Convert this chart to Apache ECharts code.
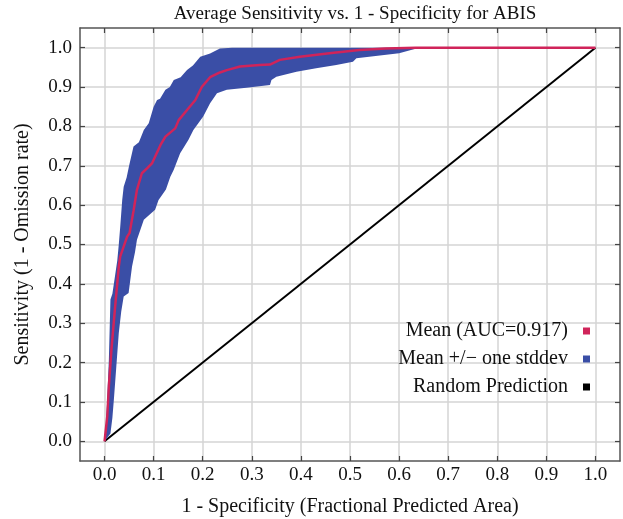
<!DOCTYPE html>
<html>
<head>
<meta charset="utf-8">
<script src="https://cdn.jsdelivr.net/npm/echarts@6/dist/echarts.min.js"></script>
<style>
  html, body { margin: 0; padding: 0; background: #fff; }
  #chart { width: 623px; height: 519px; }
</style>
</head>
<body>
<div id="chart"></div>
<script>
// tick positions on both axes
var tickValues = [0, 0.1, 0.2, 0.3, 0.4, 0.5, 0.6, 0.7, 0.8, 0.9, 1.0];

// mean ROC curve [1 - specificity, sensitivity]
var meanCurve = [
  [0, 0], [0.0055, 0.063], [0.0088, 0.14], [0.014, 0.233], [0.021, 0.334],
  [0.029, 0.444], [0.032, 0.47], [0.046, 0.52], [0.051, 0.529], [0.059, 0.585],
  [0.066, 0.639], [0.076, 0.681], [0.087, 0.694], [0.097, 0.707], [0.114, 0.753],
  [0.124, 0.774], [0.144, 0.795], [0.151, 0.816], [0.171, 0.846], [0.185, 0.867],
  [0.198, 0.9], [0.215, 0.925], [0.235, 0.937], [0.249, 0.943], [0.276, 0.952],
  [0.316, 0.956], [0.337, 0.957], [0.357, 0.969], [0.398, 0.977], [0.458, 0.986],
  [0.519, 0.994], [0.573, 0.998], [0.634, 1.0], [1.0, 1.0]
];

// mean + one stddev (upper edge of band)
var bandUpper = [
  [0, 0], [0.002, 0.02], [0.004, 0.07], [0.0055, 0.106], [0.0088, 0.207],
  [0.012, 0.36], [0.016, 0.375], [0.019, 0.4], [0.026, 0.46], [0.029, 0.5],
  [0.032, 0.546], [0.036, 0.613], [0.039, 0.647], [0.045, 0.67], [0.05, 0.7],
  [0.059, 0.749], [0.07, 0.76], [0.08, 0.791], [0.09, 0.808], [0.1, 0.85],
  [0.107, 0.867], [0.113, 0.87], [0.124, 0.893], [0.133, 0.9], [0.141, 0.918],
  [0.155, 0.925], [0.168, 0.943], [0.18, 0.955], [0.195, 0.977], [0.215, 0.985],
  [0.235, 0.998], [0.26, 1.0], [0.64, 1.0]
];

// mean - one stddev (lower edge of band)
var bandLower = [
  [0, 0], [0.012, 0.02], [0.016, 0.06], [0.019, 0.106], [0.024, 0.19],
  [0.029, 0.275], [0.034, 0.33], [0.039, 0.368], [0.049, 0.377], [0.056, 0.444],
  [0.062, 0.48], [0.066, 0.512], [0.08, 0.563], [0.103, 0.588], [0.11, 0.613],
  [0.114, 0.62], [0.125, 0.64], [0.134, 0.672], [0.141, 0.69], [0.154, 0.732],
  [0.171, 0.766], [0.181, 0.791], [0.201, 0.825], [0.215, 0.859], [0.229, 0.884],
  [0.249, 0.893], [0.289, 0.898], [0.337, 0.905], [0.34, 0.918], [0.35, 0.926],
  [0.391, 0.939], [0.431, 0.948], [0.472, 0.956], [0.506, 0.964], [0.513, 0.973],
  [0.6, 0.986], [0.641, 1.0]
];

// random prediction diagonal
var randomLine = [[0, 0], [1, 1]];

var RED = '#d0245a';
var BLUE = '#3a4ea6';
var FONT = 'Liberation Serif';

var chart = echarts.init(document.getElementById('chart'));

var frameAxis = {
  type: 'value',
  min: -0.05,
  max: 1.05,
  axisLine: { show: true, onZero: false, lineStyle: { color: '#555', width: 1.5 } },
  axisTick: { show: true, inside: true, length: 5, customValues: tickValues, lineStyle: { color: '#444', width: 1.2 } },
  axisLabel: { show: false },
  splitLine: { show: false }
};

var option = {
  backgroundColor: '#fff',
  animation: false,
  title: {
    text: 'Average Sensitivity vs. 1 - Specificity for ABIS',
    left: 350,
    textAlign: 'center',
    top: 0,
    textStyle: { fontFamily: FONT, fontSize: 19, fontWeight: 'normal', color: '#111' }
  },
  legend: {
    orient: 'vertical',
    right: 33,
    top: 321,
    align: 'right',
    itemWidth: 7,
    itemHeight: 7,
    itemGap: 8,
    padding: 0,
    textStyle: { fontFamily: FONT, fontSize: 20, color: '#111', lineHeight: 20, padding: [0, 10, 0, 0] },
    data: [
      { name: 'Mean (AUC=0.917)', icon: 'rect' },
      { name: 'Mean +/\u2212 one stddev', icon: 'rect' },
      { name: 'Random Prediction', icon: 'rect' }
    ]
  },
  grid: { left: 80, right: 3, top: 28, bottom: 58, outerBoundsMode: 'none' },
  xAxis: [{
    type: 'value',
    min: -0.05,
    max: 1.05,
    name: '1 - Specificity (Fractional Predicted Area)',
    nameLocation: 'middle',
    nameGap: 36,
    nameTextStyle: { fontFamily: FONT, fontSize: 20, color: '#111' },
    axisLine: { show: true, onZero: false, lineStyle: { color: '#555', width: 1.5 } },
    axisTick: { show: true, inside: true, length: 5, customValues: tickValues, lineStyle: { color: '#444', width: 1.2 } },
    axisLabel: {
      customValues: tickValues, margin: 5,
      fontFamily: FONT, fontSize: 19, color: '#111',
      formatter: function (v) { return v.toFixed(1); }
    },
    splitLine: { show: true, lineStyle: { color: '#d4d4d4', width: 1.5 } }
  }, Object.assign({ position: 'top' }, frameAxis)],
  yAxis: [{
    type: 'value',
    min: -0.05,
    max: 1.05,
    name: 'Sensitivity (1 - Omission rate)',
    nameLocation: 'middle',
    nameGap: 47,
    nameTextStyle: { fontFamily: FONT, fontSize: 20, color: '#111' },
    axisLine: { show: true, onZero: false, lineStyle: { color: '#555', width: 1.5 } },
    axisTick: { show: true, inside: true, length: 5, customValues: tickValues, lineStyle: { color: '#444', width: 1.2 } },
    axisLabel: {
      customValues: tickValues, margin: 8,
      fontFamily: FONT, fontSize: 19, color: '#111',
      formatter: function (v) { return v.toFixed(1); }
    },
    splitLine: { show: true, lineStyle: { color: '#d4d4d4', width: 1.5 } }
  }, Object.assign({ position: 'right' }, frameAxis)],
  series: [
    {
      name: 'Random Prediction',
      type: 'line',
      data: randomLine,
      showSymbol: false,
      lineStyle: { color: '#000', width: 2 },
      itemStyle: { color: '#000' },
      z: 2
    },
    {
      name: 'Mean +/\u2212 one stddev',
      type: 'custom',
      data: [[0, 0]],
      itemStyle: { color: BLUE },
      renderItem: function (params, api) {
        var pts = bandUpper.concat(bandLower.slice().reverse()).map(function (p) {
          return api.coord(p);
        });
        return { type: 'polygon', shape: { points: pts }, style: { fill: BLUE } };
      },
      z: 3
    },
    {
      name: 'Mean (AUC=0.917)',
      type: 'line',
      data: meanCurve,
      showSymbol: false,
      lineStyle: { color: RED, width: 2.5 },
      itemStyle: { color: RED },
      z: 4
    }
  ]
};

chart.setOption(option);
window.addEventListener('resize', function () { chart.resize(); });
</script>
</body>
</html>
